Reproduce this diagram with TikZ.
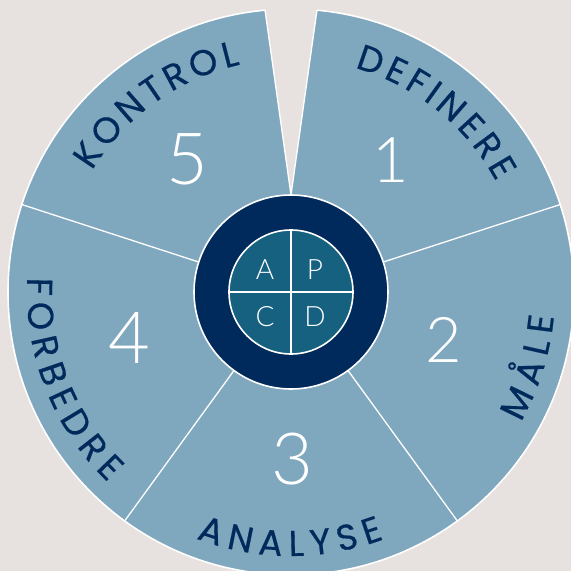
\documentclass[tikz,border=0pt]{standalone}
\usepackage{fontspec}
\newfontfamily\labelfont[FakeBold=0.4]{Poppins}
\newfontfamily\digitfont{Lato Light}
\definecolor{bgc}{RGB}{231,226,224}
\definecolor{sectc}{RGB}{127,168,191}
\definecolor{navyc}{RGB}{1,42,92}
\definecolor{tealc}{RGB}{23,97,128}
\newcommand\lblfont{\labelfont\fontsize{36}{36}\selectfont}
\newcommand\measureletter[1]{%
  \setbox0\hbox{\lblfont #1}%
  \expandafter\xdef\csname lw@#1\endcsname{\the\wd0}}
\AtBeginDocument{%
  \measureletter{A}\measureletter{B}\measureletter{D}\measureletter{E}%
  \measureletter{F}\measureletter{I}\measureletter{K}\measureletter{L}%
  \measureletter{M}\measureletter{N}\measureletter{O}\measureletter{R}%
  \measureletter{S}\measureletter{T}\measureletter{Y}\measureletter{Å}}
\newcommand\arclabel[6]{% #1 name, #2 baseline radius, #3 mid angle, #4 dir, #5 tracking, #6 letters
  \gdef\acctot{0}%
  \foreach \c in {#6}{%
    \edef\cw{\csname lw@\c\endcsname}%
    \pgfmathparse{\acctot+\cw+#5}%
    \xdef\acctot{\pgfmathresult}%
  }%
  \pgfmathparse{\acctot-#5}\xdef\acctot{\pgfmathresult}%
  \gdef\accpos{0}%
  \foreach \c [count=\i] in {#6}{%
    \edef\cw{\csname lw@\c\endcsname}%
    \pgfmathsetmacro\ang{#3-(#4)*(\accpos+\cw/2-\acctot/2)/(#2)*180/pi}%
    \pgfmathsetmacro\rot{\ang-(#4)*90}%
    \node[lbl,rotate=\rot] (#1-\i) at (\ang:#2) {\c};
    \pgfmathparse{\accpos+\cw+#5}\xdef\accpos{\pgfmathresult}%
  }%
}
\begin{document}
\begin{tikzpicture}[x=1pt,y=1pt,
  lbl/.style={font=\lblfont,text=navyc,anchor=base,inner sep=0pt},
  digit/.style={font=\digitfont\fontsize{72}{72}\selectfont,text=white,inner sep=0pt},
  digitsm/.style={font=\digitfont\fontsize{63}{63}\selectfont,text=white,inner sep=0pt},
  quad/.style={font=\digitfont\fontsize{28}{28}\selectfont,text=white,inner sep=0pt},
  wline/.style={draw=white,line width=1.3pt}]
% background
\fill[bgc] (-291,-279) rectangle (280,292);
\useasboundingbox (-291,-279) rectangle (280,292);
% main disk
\fill[sectc] (0,0) circle[radius=283];
\draw[wline,line width=1.6pt] (0,0) circle[radius=283];
% gap at top
\coordinate (apex) at (0,97);
\coordinate (gl) at (-26,282);
\coordinate (gr) at (26,282);
\fill[bgc] (apex) -- (-34,340) -- (34,340) -- cycle;
\draw[wline] (gl) -- (apex) -- (gr);
% dividers
\foreach \a in {18,162,234,306}
  \draw[wline] (\a:96) -- (\a:283);
% rings
\node[circle,fill=navyc,draw=white,line width=1.6pt,minimum size=194pt,inner sep=0pt] (ring) at (0,0) {};
\node[circle,fill=tealc,draw=white,line width=1.6pt,minimum size=124pt,inner sep=0pt] (core) at (0,0) {};
\draw[wline,line width=1.6pt] (core.north) -- (core.south);
\draw[wline,line width=1.6pt] (core.west) -- (core.east);
\node[quad] (qa) at (-26,22) {A};
\node[quad] (qp) at (24,22) {P};
\node[quad] (qc) at (-26,-25) {C};
\node[quad] (qd) at (24,-25) {D};
% numbers
\node[digitsm] (n1) at (100,131.5) {1};
\node[digitsm] (n2) at (153,-48) {2};
\node[digit] (n3) at (1,-167) {3};
\node[digit] (n4) at (-162,-46) {4};
\node[digit] (n5) at (-104,133) {5};
% labels
\arclabel{kontrol}{233}{125.6}{1}{4.5}{K,O,N,T,R,O,L}
\arclabel{definere}{233}{51.2}{1}{4.5}{D,E,F,I,N,E,R,E}
\arclabel{maale}{264}{-17.4}{-1}{7.5}{M,Å,L,E}
\arclabel{analyse}{264}{-90.2}{-1}{7}{A,N,A,L,Y,S,E}
\arclabel{forbedre}{264}{201.5}{-1}{7.5}{F,O,R,B,E,D,R,E}
\end{tikzpicture}
\end{document}
